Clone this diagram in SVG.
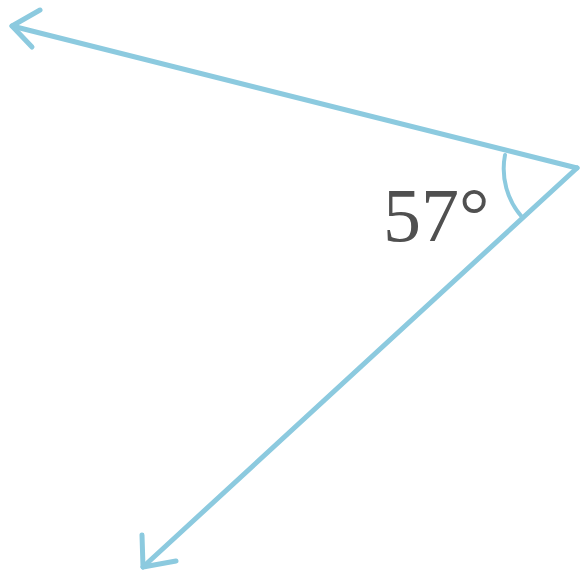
<svg xmlns="http://www.w3.org/2000/svg" width="585" height="572" viewBox="0 0 585 572">
<defs>
<style>
.ray{stroke:#8ccadf;stroke-width:5px;fill:none;stroke-linecap:round;stroke-linejoin:round}
.lbl{font-family:"Liberation Serif",serif;font-size:76px;fill:#505050}
</style>
</defs>
<rect x="0" y="0" width="585" height="572" fill="#ffffff"/>
<g id="connectors">
<path class="ray" d="M577,168 L12,26"/>
<path class="ray" d="M40,10 L12,26 L32,47"/>
<path class="ray" d="M577,168 L143,567"/>
<path class="ray" d="M142,535 L143,567 L176,561"/>
</g>
<g id="angle">
<path class="ray" style="stroke-width:4px" d="M505,155 A73,73 0 0 0 522,217"/>
<text class="lbl" x="383" y="241">57°</text>
</g>
</svg>
